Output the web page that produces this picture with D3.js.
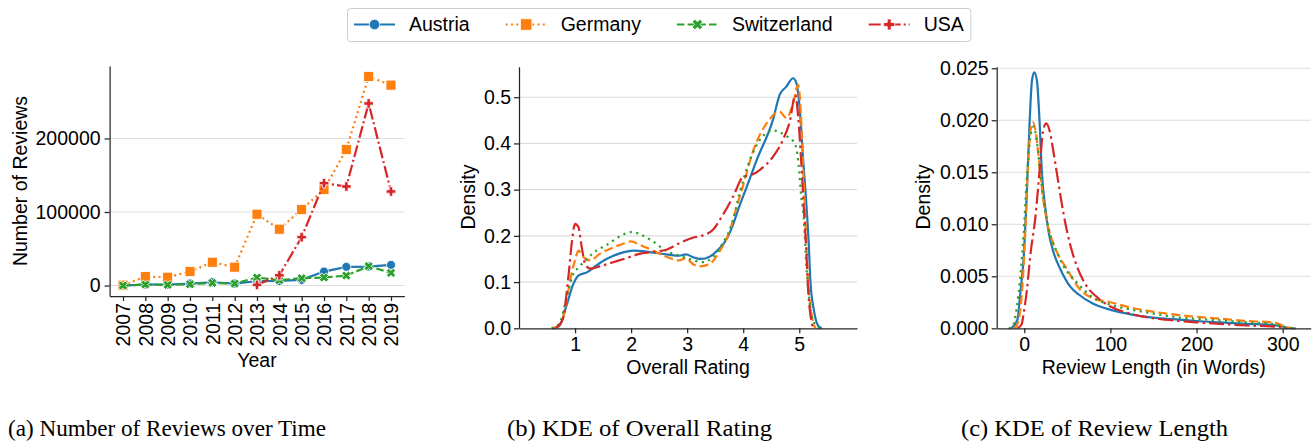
<!DOCTYPE html>
<html>
<head>
<meta charset="utf-8">
<script src="https://cdn.jsdelivr.net/npm/d3@7"></script>
<style>
  body { margin: 0; background: #fff; }
  text { font-family: "Liberation Sans", Arial, sans-serif; fill: #000; }
  .caption { font-family: "Liberation Serif", "Times New Roman", serif; }
</style>
</head>
<body>
<script>
// countries, colours in tab10 order
const countries = ["Austria", "Germany", "Switzerland", "USA"];
const colors = ["#1f77b4", "#ff7f0e", "#2ca02c", "#d62728"];

// (a) number of reviews per year
const years = [2007, 2008, 2009, 2010, 2011, 2012, 2013, 2014, 2015, 2016, 2017, 2018, 2019];
const austriaReviews = [0, 1400, 1400, 2700, 4500, 2700, 6000, 6300, 7700, 19000, 25400, 25800, 28100];
const germanyReviews = [500, 12200, 11300, 19000, 31700, 25000, 97000, 76600, 103400, 130600, 185000, 284300, 272500];
const switzerlandReviews = [0, 1400, 900, 1800, 3600, 2700, 10900, 7300, 10000, 10900, 13600, 26300, 17200];
const usaYears = [2013, 2014, 2015, 2016, 2017, 2018, 2019];
const usaReviews = [900, 14000, 65800, 139200, 134700, 247600, 127900];

// (b) KDE of overall rating, [rating, density]
const ratingAustria = [[0.60,0],[0.72,0.005],[0.85,0.05],[0.97,0.096],[1.06,0.114],[1.21,0.121],[1.38,0.136],[1.56,0.150],[1.80,0.162],[2.04,0.168],[2.33,0.165],[2.63,0.160],[2.86,0.157],[2.98,0.160],[3.10,0.154],[3.25,0.150],[3.40,0.155],[3.57,0.172],[3.70,0.192],[3.82,0.225],[3.94,0.267],[4.06,0.305],[4.24,0.364],[4.53,0.451],[4.65,0.505],[4.77,0.523],[4.89,0.541],[4.95,0.53],[5.01,0.472],[5.07,0.364],[5.13,0.263],[5.17,0.18],[5.20,0.10],[5.26,0.04],[5.34,0.005],[5.40,0]];
const ratingGermany = [[0.62,0],[0.75,0.01],[0.88,0.082],[0.94,0.12],[1.00,0.147],[1.06,0.168],[1.15,0.154],[1.27,0.147],[1.44,0.161],[1.68,0.175],[1.86,0.183],[2.00,0.188],[2.15,0.181],[2.39,0.168],[2.63,0.155],[2.86,0.147],[2.98,0.152],[3.10,0.139],[3.22,0.134],[3.40,0.139],[3.57,0.165],[3.75,0.208],[3.90,0.27],[4.00,0.31],[4.18,0.385],[4.42,0.444],[4.65,0.469],[4.77,0.455],[4.89,0.487],[4.98,0.527],[5.04,0.436],[5.07,0.343],[5.10,0.263],[5.16,0.10],[5.22,0.03],[5.29,0]];
const ratingSwitzerland = [[0.58,0],[0.72,0.01],[0.85,0.067],[0.97,0.118],[1.06,0.131],[1.21,0.150],[1.38,0.168],[1.56,0.180],[1.80,0.199],[2.00,0.208],[2.15,0.204],[2.39,0.188],[2.63,0.167],[2.86,0.157],[3.04,0.150],[3.28,0.143],[3.46,0.154],[3.63,0.183],[3.81,0.230],[3.93,0.29],[4.12,0.364],[4.30,0.408],[4.53,0.428],[4.77,0.416],[4.92,0.40],[4.98,0.364],[5.04,0.28],[5.08,0.24],[5.13,0.13],[5.19,0.05],[5.28,0.008],[5.36,0]];
const ratingUSA = [[0.65,0],[0.78,0.02],[0.88,0.11],[0.94,0.183],[1.00,0.226],[1.06,0.219],[1.12,0.175],[1.18,0.139],[1.27,0.129],[1.44,0.134],[1.68,0.143],[1.92,0.152],[2.15,0.161],[2.39,0.165],[2.63,0.170],[2.86,0.184],[3.10,0.196],[3.28,0.201],[3.46,0.213],[3.63,0.244],[3.82,0.285],[4.00,0.328],[4.15,0.332],[4.30,0.343],[4.53,0.371],[4.71,0.408],[4.83,0.447],[4.93,0.505],[4.98,0.458],[5.04,0.35],[5.08,0.263],[5.12,0.18],[5.16,0.08],[5.21,0.02],[5.26,0]];

// (c) KDE of review length, [words, density]
const lengthAustria = [[-15,0],[-8,0.0008],[-4.6,0.0034],[-0.8,0.0067],[3.1,0.0133],[6.2,0.0198],[8.9,0.0238],[11.6,0.0246],[14.7,0.0238],[17.8,0.0198],[20.5,0.0149],[24.4,0.0116],[28.2,0.0093],[34,0.0073],[41.8,0.0057],[53.4,0.0040],[64,0.0032],[79,0.0024],[100,0.00177],[122,0.00137],[149,0.00103],[180,0.00083],[200,0.0007],[227,0.00057],[258,0.00043],[290,0.0003],[297,0.00023],[305,0.00005],[315,0]];
const lengthGermany = [[-12,0],[-8.5,0.0003],[-2.7,0.0034],[1.2,0.0093],[3.9,0.0149],[7.0,0.0189],[10.1,0.0198],[13.9,0.0185],[17.8,0.0156],[21.7,0.0126],[26.3,0.0103],[32.1,0.0085],[39.8,0.0070],[49.5,0.0057],[64,0.0038],[79,0.0029],[100,0.0025],[122,0.00203],[149,0.0016],[180,0.00127],[200,0.0011],[227,0.00093],[258,0.0007],[290,0.00057],[297,0.00037],[305,0.0001],[313,0]];
const lengthSwitzerland = [[-18,0],[-14.3,0.0001],[-6.6,0.0034],[-0.8,0.009],[3.1,0.0146],[7.0,0.0184],[10.8,0.0194],[14.7,0.0179],[18.6,0.0149],[22.4,0.0123],[28.2,0.0096],[36,0.0077],[45.6,0.006],[61,0.0044],[79,0.0030],[100,0.00227],[122,0.00183],[149,0.00143],[180,0.00103],[200,0.0009],[227,0.00077],[258,0.00057],[290,0.00043],[297,0.00023],[305,0.0001],[313,0]];
const lengthUSA = [[-8,0],[-3,0.0004],[-0.8,0.0014],[3.1,0.0037],[7,0.007],[12.8,0.0106],[17.8,0.0152],[21.7,0.0189],[25.5,0.0197],[29.4,0.019],[34,0.0169],[39.8,0.0139],[45.6,0.011],[53.4,0.008],[61,0.006],[72,0.0041],[83,0.0031],[100,0.0021],[122,0.00143],[149,0.00097],[180,0.0007],[200,0.00057],[227,0.00043],[258,0.00027],[290,0.00017],[297,0.0001],[305,0]];

// tick labels
const ratingTicks = [1, 2, 3, 4, 5];
const ratingDensityTicks = [0, 0.1, 0.2, 0.3, 0.4, 0.5];
const lengthTicks = [0, 100, 200, 300];
const lengthDensityTicks = [0, 0.005, 0.01, 0.015, 0.02, 0.025];
const reviewTicks = [0, 100000, 200000];

const W = 1312, H = 444;
const fontSize = "19.5px";
const spine = "#262626";
const gridColor = "#dddddd";

const svg = d3.select("body").append("svg")
    .attr("width", W)
    .attr("height", H);

// dash styles: panel (a) matches the legend, (b)/(c) use a different order
const dashA = ["none", "2,3.3", "7.5,3.2", "12,3,2,3"];
const dashKde = ["none", "9,4", "2.2,4.4", "15,4,2.5,4"];

function styleAxis(g) {
    g.select(".domain").attr("stroke", spine).attr("stroke-width", 1.25);
    g.selectAll(".tick line").attr("stroke", spine).attr("stroke-width", 1.25);
    g.selectAll(".tick text").style("font-size", fontSize).attr("fill", "#000");
}

function grid(g, y, ticks, x0, x1) {
    g.selectAll("line.grid").data(ticks).join("line")
        .attr("class", "grid")
        .attr("x1", x0).attr("x2", x1)
        .attr("y1", d => y(d)).attr("y2", d => y(d))
        .attr("stroke", gridColor).attr("stroke-width", 1.1);
}

function marker(sel, i, s) {
    // circle, square, X, plus (filled with white edge like matplotlib)
    s = s || 1;
    if (i == 0) {
        sel.append("circle").attr("r", 4.5 * s);
    } else if (i == 1) {
        sel.append("rect").attr("x", -5 * s).attr("y", -5 * s).attr("width", 10 * s).attr("height", 10 * s);
    } else {
        let a = 4.8 * s, b = 1.7 * s;
        let p = "M" + (-b) + "," + (-a) + "H" + b + "V" + (-b) + "H" + a + "V" + b + "H" + b + "V" + a + "H" + (-b) + "V" + b + "H" + (-a) + "V" + (-b) + "H" + (-b) + "Z";
        let path = sel.append("path").attr("d", p);
        if (i == 2) path.attr("transform", "rotate(45)");
    }
    sel.attr("fill", colors[i]).attr("stroke", "#fff").attr("stroke-width", 0.8);
}

// ---------- panel (a) ----------
const maxA = d3.max([].concat(austriaReviews, germanyReviews, switzerlandReviews, usaReviews));
const xA = d3.scaleLinear().domain([2006.4, 2019.6]).range([109.6, 404.4]);
const yA = d3.scaleLinear().domain([-0.05 * maxA, 1.05 * maxA]).range([296, 66]);

const gA = svg.append("g");
grid(gA, yA, reviewTicks, 109.6, 404.4);

const seriesA = [
    years.map((y, i) => [y, austriaReviews[i]]),
    years.map((y, i) => [y, germanyReviews[i]]),
    years.map((y, i) => [y, switzerlandReviews[i]]),
    usaYears.map((y, i) => [y, usaReviews[i]])
];
const lineA = d3.line().x(d => xA(d[0])).y(d => yA(d[1]));

seriesA.forEach((s, i) => {
    gA.append("path")
        .attr("d", lineA(s))
        .attr("fill", "none")
        .attr("stroke", colors[i])
        .attr("stroke-width", 2.2)
        .attr("stroke-dasharray", dashA[i]);
    s.forEach(d => {
        let m = gA.append("g").attr("transform", "translate(" + xA(d[0]) + "," + yA(d[1]) + ")");
        marker(m, i);
    });
});

gA.append("g")
    .attr("transform", "translate(109.6,0)")
    .call(d3.axisLeft(yA).tickValues(reviewTicks).tickSize(5).tickSizeOuter(0).tickPadding(4).tickFormat(d3.format("d")))
    .call(styleAxis);

const axA = gA.append("g")
    .attr("transform", "translate(0,296)")
    .call(d3.axisBottom(xA).tickValues(years).tickSize(5).tickSizeOuter(0).tickFormat(d3.format("d")))
    .call(styleAxis);
axA.selectAll(".tick text")
    .attr("transform", "rotate(-90)")
    .attr("x", -7).attr("y", 0).attr("dy", "0.35em")
    .style("text-anchor", "end");

gA.append("text").attr("x", 257).attr("y", 367).attr("text-anchor", "middle").style("font-size", fontSize).text("Year");
gA.append("text").attr("transform", "translate(20,181) rotate(-90)").attr("dy", "0.35em")
    .attr("text-anchor", "middle").style("font-size", fontSize).text("Number of Reviews");

// ---------- KDE panels ----------
function kdePanel(opt) {
    const g = svg.append("g");
    const x = d3.scaleLinear().domain(opt.xDomain).range([opt.left, opt.right]);
    const y = d3.scaleLinear().domain(opt.yDomain).range([328.3, 66.7]);
    grid(g, y, opt.yTicks.slice(1), opt.left, opt.right);

    const line = d3.line().curve(d3.curveMonotoneX).x(d => x(d[0])).y(d => y(d[1]));
    opt.series.forEach((s, i) => {
        g.append("path")
            .attr("d", line(s))
            .attr("fill", "none")
            .attr("stroke", colors[i])
            .attr("stroke-width", 2.2)
            .attr("stroke-dasharray", dashKde[i]);
    });

    g.append("g")
        .attr("transform", "translate(" + opt.left + ",0)")
        .call(d3.axisLeft(y).tickValues(opt.yTicks).tickSize(5).tickSizeOuter(0).tickPadding(3).tickFormat(d3.format(opt.yFormat)))
        .call(styleAxis);
    g.append("g")
        .attr("transform", "translate(0,328.3)")
        .call(d3.axisBottom(x).tickValues(opt.xTicks).tickSize(5).tickSizeOuter(0).tickPadding(4).tickFormat(d3.format("d")))
        .call(styleAxis);

    g.append("text").attr("x", (opt.left + opt.right) / 2).attr("y", 374)
        .attr("text-anchor", "middle").style("font-size", fontSize).text(opt.xLabel);
    g.append("text").attr("transform", "translate(" + opt.labelX + ",197) rotate(-90)").attr("dy", "0.35em")
        .attr("text-anchor", "middle").style("font-size", fontSize).text("Density");
}

kdePanel({
    left: 519, right: 857,
    xDomain: [0, 6.03], yDomain: [0, 0.566],
    xTicks: ratingTicks, yTicks: ratingDensityTicks, yFormat: ".1f",
    series: [ratingAustria, ratingGermany, ratingSwitzerland, ratingUSA],
    xLabel: "Overall Rating", labelX: 468
});

kdePanel({
    left: 996.7, right: 1310.7,
    xDomain: [-32, 332.5], yDomain: [0, 0.02515],
    xTicks: lengthTicks, yTicks: lengthDensityTicks, yFormat: ".3f",
    series: [lengthAustria, lengthGermany, lengthSwitzerland, lengthUSA],
    xLabel: "Review Length (in Words)", labelX: 923
});

// ---------- legend ----------
const leg = svg.append("g");
const box = leg.append("rect")
    .attr("x", 347.5).attr("y", 8.5).attr("height", 33).attr("rx", 3)
    .attr("fill", "#fff").attr("stroke", "#cccccc").attr("stroke-width", 1);

let lx = 354;
countries.forEach((c, i) => {
    leg.append("line")
        .attr("x1", lx).attr("x2", lx + 41).attr("y1", 24.5).attr("y2", 24.5)
        .attr("stroke", colors[i]).attr("stroke-width", 2.2).attr("stroke-dasharray", dashA[i]);
    let m = leg.append("g").attr("transform", "translate(" + (lx + 20.5) + ",24.5)");
    marker(m, i, 1.15);
    let t = leg.append("text").attr("x", lx + 55).attr("y", 31).style("font-size", fontSize).text(c);
    lx = lx + 55 + t.node().getComputedTextLength() + 36;
});
box.attr("width", lx - 36 + 7 - 347.5);

// ---------- captions ----------
const captions = ["(a) Number of Reviews over Time", "(b) KDE of Overall Rating", "(c) KDE of Review Length"];
const captionX = [8, 507, 961];
const captionW = [318, 265, 267];
captions.forEach((c, i) => {
    svg.append("text").attr("class", "caption")
        .attr("x", captionX[i]).attr("y", 436)
        .attr("textLength", captionW[i]).attr("lengthAdjust", "spacingAndGlyphs")
        .style("font-size", "24px").text(c);
});
</script>
</body>
</html>
